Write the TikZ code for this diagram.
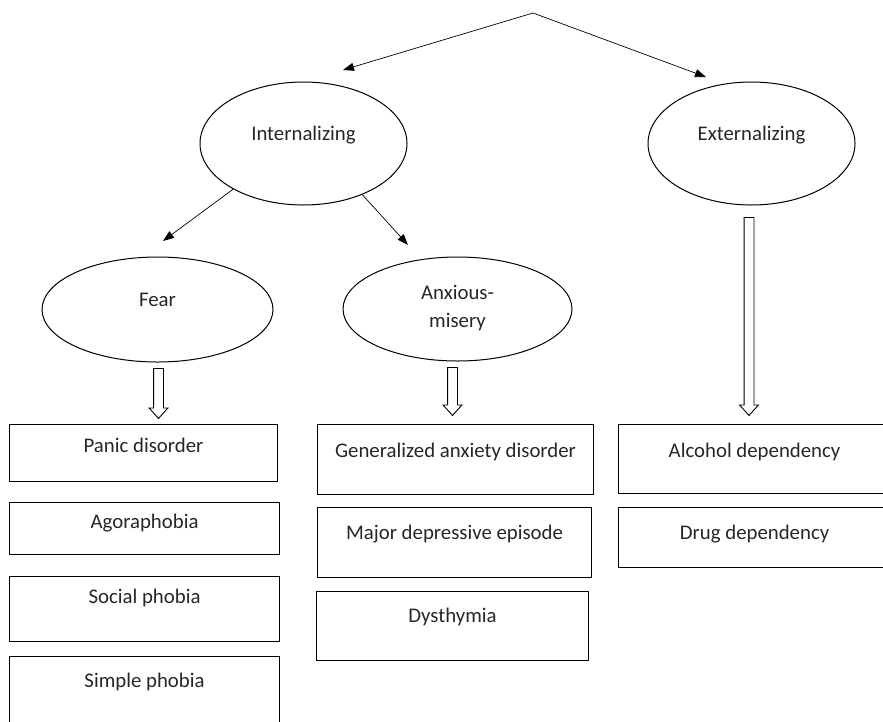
\documentclass[tikz,border=0pt]{standalone}
\usepackage{fontspec}
\setmainfont{Carlito}
\usetikzlibrary{shapes, arrows.meta}

\tikzset{
	oval/.style 2 args={draw, ellipse, line width=1pt, inner sep=0pt, minimum width=#1, minimum height=#2, text height=14pt, text depth=20pt},
	dis/.style n args={3}{draw, line width=1.1pt, anchor=north west, inner sep=0pt, minimum width=#1, text height=#2, text depth=#3},
	hollow/.style={draw, single arrow, line width=0.9pt, fill=white, rotate=-90, anchor=tail, inner sep=0pt, text height=4.5pt, text depth=4.5pt, single arrow head extend=4.5pt, single arrow tip angle=84},
	link/.style={line width=0.7pt, -{Triangle[length=11pt,width=8pt]}}
}

\begin{document}
\begin{tikzpicture}[x=1pt, y=-1pt, font=\fontsize{20.8}{24}\selectfont, text=black!85]
	\useasboundingbox (0,0) rectangle (883,721);
	\clip (0,0) rectangle (883,721);

	\coordinate (apex) at (533,13);
	\coordinate (intTip) at (343,70);
	\coordinate (extTip) at (706,77);
	\coordinate (fearTip) at (163,241);
	\coordinate (anxTip) at (408,245);

	\node[oval={207pt}{123pt}] (int) at (303.5,143.5) {Internalizing};
	\node[oval={207pt}{123pt}] (ext) at (751.5,143.5) {Externalizing};
	\node[oval={231pt}{105pt}] (fear) at (157.5,309.5) {Fear};
	\node[oval={229pt}{104pt}, align=center, text height=42pt, text depth=5pt] (anx) at (457.5,309) {Anxious-\\[4pt]misery};

	\draw[link] (apex) -- (intTip);
	\draw[link] (apex) -- (extTip);
	\draw[link] (int.-147) -- (fearTip);
	\draw[link] (int.-41) -- (anxTip);

	\foreach \nm/\x/\y/\len in {fearArr/158.5/368/50, anxArr/452.5/367/48, extArr/749/217/198}{
		\node[hollow, minimum height=\len pt] (\nm) at (\x,\y) {};
	}

	\node[dis={268pt}{27.7pt}{29.3pt}] (panic) at (9,424) {Panic disorder};
	\node[dis={270pt}{26.3pt}{25.7pt}] (agora) at (9,502) {Agoraphobia};
	\node[dis={270pt}{26.7pt}{38.3pt}] (social) at (9,576) {Social phobia};
	\node[dis={270pt}{30.7pt}{59.3pt}] (simple) at (9,656) {Simple phobia};

	\node[dis={276pt}{32.7pt}{37.3pt}] (gad) at (317,424) {Generalized anxiety disorder};
	\node[dis={274pt}{32pt}{38pt}] (mde) at (317,507) {Major depressive episode};
	\node[dis={272pt}{31.3pt}{37.7pt}] (dys) at (316,591) {Dysthymia};

	\node[dis={272pt}{32.7pt}{36.3pt}] (alc) at (618,424) {Alcohol dependency};
	\node[dis={272pt}{32.3pt}{27.7pt}] (drug) at (618,507) {Drug dependency};
\end{tikzpicture}
\end{document}
